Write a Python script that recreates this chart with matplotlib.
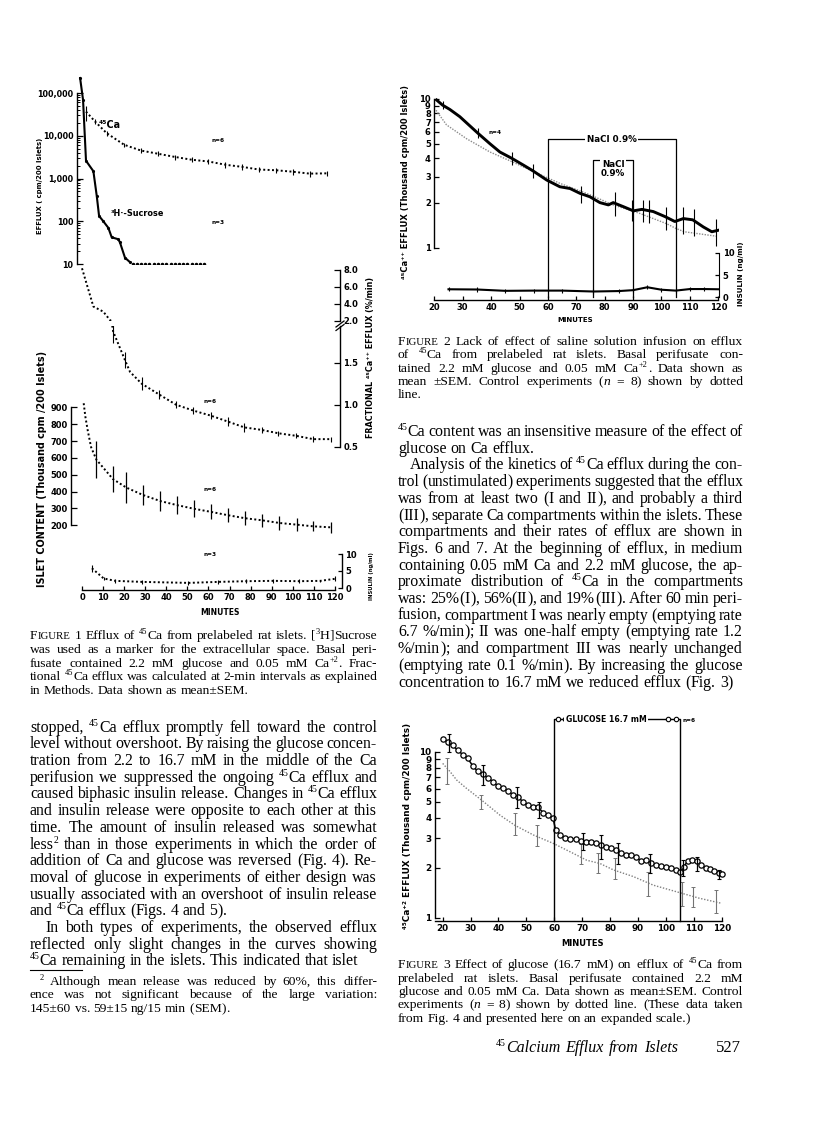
import re

import matplotlib
matplotlib.use("Agg")
import matplotlib.pyplot as plt
from matplotlib.lines import Line2D

W, H = 816, 1134
SERIF = "Liberation Serif"
SANS = ["DejaVu Sans"]

# ---------------- Figure 1 (minutes) ----------------
f1_ca_t = [1.9, 6.2, 11.7, 20, 28, 36, 44, 52, 60, 68, 76, 84, 92, 100, 108, 116]
f1_ca_v = [36700, 21500, 11500, 6150, 4500, 3800, 3200, 2750, 2500, 2100, 1870, 1620, 1560, 1440, 1300, 1320]
f1_ca_sem = [14000, 3000, 1500, 800, 600, 500, 420, 380, 330, 300, 260, 230, 220, 200, 190, 190]

f1_suc_t = [-0.9, 0.5, 1.9, 5.4, 7.0, 8.1, 10.1, 12.5, 14.1, 17.2, 18.0, 20.4, 22.8]
f1_suc_v = [224000, 69000, 2600, 1480, 390, 133, 100, 70, 42, 38, 32, 14, 11]
f1_suc_tail_t = [24, 26, 28, 30, 32, 34, 36, 38, 40, 42, 44, 46, 48, 50, 52, 54, 56, 58]
f1_suc_tail_v = [10, 10, 10, 10, 10, 10, 10, 10, 10, 10, 10, 10, 10, 10, 10, 10, 10, 10]

f1_frac_t = [0, 5.4, 10.1, 13.3, 14.8, 20.4, 22.8, 28.3, 36.7, 44.6, 52.8, 61.1, 69.1, 77, 85.2, 93.1, 101.5, 109.7, 118.1]
f1_frac_v = [8.2, 3.7, 3.1, 2.1, 1.87, 1.53, 1.39, 1.25, 1.12, 1.0, 0.93, 0.87, 0.80, 0.73, 0.70, 0.66, 0.63, 0.59, 0.59]
f1_frac_bar_t = [14.8, 20.4, 28.3, 36.7, 44.6, 52.8, 61.1, 69.1, 77, 85.2, 93.1, 101.5, 109.7, 118.1]
f1_frac_bar_v = [1.87, 1.53, 1.25, 1.12, 1.0, 0.93, 0.87, 0.80, 0.73, 0.70, 0.66, 0.63, 0.59, 0.59]
f1_frac_bar_sem = [0.14, 0.095, 0.08, 0.05, 0.045, 0.04, 0.04, 0.05, 0.05, 0.04, 0.03, 0.03, 0.035, 0.03]

f1_islet_t = [0.8, 1.6, 2.7, 4.3, 6.8, 14.7, 21, 28.9, 37.1, 45, 53.2, 61.1, 69.2, 77.4, 85.3, 93.6, 101.8, 109.7, 118.1]
f1_islet_v = [924, 844, 764, 664, 590, 474, 424, 380, 344, 320, 298, 280, 260, 242, 230, 214, 204, 194, 188]
f1_islet_bar_t = [6.8, 14.7, 21, 28.9, 37.1, 45, 53.2, 61.1, 69.2, 77.4, 85.3, 93.6, 101.8, 109.7, 118.1]
f1_islet_bar_v = [590, 474, 424, 380, 344, 320, 298, 280, 260, 242, 230, 214, 204, 194, 188]
f1_islet_bar_sem = [110, 78, 90, 62, 60, 53, 50, 45, 40, 42, 40, 40, 38, 30, 33]

f1_ins_t = [4.7, 10.3, 15.8, 28.4, 50.5, 64.7, 78, 90.8, 103, 113, 120]
f1_ins_v = [5.8, 2.8, 2.1, 1.8, 1.5, 1.8, 2.0, 2.1, 2.0, 2.1, 2.7]
f1_ins_sem = [1.1, 0.3, 0.6, 0.6, 0.6, 0.6, 0.6, 0.6, 0.6, 0.3, 0.7]

# ---------------- Figure 2 ----------------
f2_t = [20.8, 22.9, 25.5, 29, 31.4, 35.3, 39.6, 43.1, 47.2, 51.3, 54.6, 59.6, 64.2, 67.8, 71.3,
        74.8, 78.3, 81.3, 83, 86.5, 90.1, 93.1, 97.1, 101.2, 104.7, 107.7, 111, 114.7, 117.7, 120]
f2_v = [9.85, 9.1, 8.5, 7.6, 6.9, 5.9, 5.0, 4.4, 4.0, 3.6, 3.3, 2.85, 2.57, 2.5, 2.32,
        2.2, 2.01, 1.94, 2.01, 1.89, 1.77, 1.81, 1.75, 1.62, 1.50, 1.57, 1.54, 1.38, 1.28, 1.31]
f2_bar_t = [22.9, 35.3, 47.2, 54.6, 71.7, 83.5, 89.6, 93.6, 95.6, 101.7, 107.5, 111.4, 119.3]
f2_bar_v = [9.1, 5.9, 4.0, 3.3, 2.3, 2.0, 1.8, 1.8, 1.78, 1.6, 1.55, 1.5, 1.3]
f2_bar_sem = [0.57, 0.46, 0.41, 0.37, 0.30, 0.36, 0.28, 0.30, 0.32, 0.29, 0.32, 0.31, 0.27]
f2_ctl_t = [20.6, 24.3, 31.4, 39.6, 47.2, 54.9, 64.2, 73.6, 83, 92.4, 101.8, 105, 108, 120]
f2_ctl_v = [8.4, 6.7, 5.4, 4.4, 3.8, 3.25, 2.71, 2.32, 1.94, 1.70, 1.45, 1.35, 1.28, 1.19]
f2_ins_t = [25, 35, 45, 55, 65, 76, 85, 90, 95, 100, 105, 110, 115, 120]
f2_ins_v = [1.8, 1.75, 1.45, 1.5, 1.5, 1.3, 1.4, 1.6, 2.25, 1.7, 1.5, 1.85, 1.85, 1.8]
f2_nacl_long = [60, 105]
f2_nacl_short = [76, 90]

# ---------------- Figure 3 ----------------
f3_t = [20, 21.8, 23.6, 25.4, 27.2, 29, 30.8, 32.6, 34.4, 36.2, 38, 39.8, 41.6, 43.4, 45.2, 47,
        48.8, 50.6, 52.4, 54.2, 56, 57.8, 59.5, 60.5, 62.2, 64, 65.8, 67.6, 69.4, 71.2, 73, 74.8,
        76.6, 78.4, 80.2, 82, 83.8, 85.6, 87.4, 89.2, 91, 92.8, 94.6, 96.4, 98.2, 100, 101.8,
        103.6, 105.2, 106.4, 107.8, 109.4, 111, 112.6, 114.2, 115.8, 117.4, 119, 120]
f3_v = [12.0, 11.5, 10.9, 10.2, 9.6, 9.1, 8.2, 7.6, 7.3, 6.95, 6.6, 6.2, 6.05, 5.8, 5.5, 5.3,
        5.0, 4.75, 4.66, 4.62, 4.3, 4.15, 4.0, 3.37, 3.15, 3.02, 2.97, 2.98, 2.88, 2.85, 2.86, 2.8,
        2.73, 2.65, 2.62, 2.55, 2.46, 2.4, 2.38, 2.33, 2.2, 2.23, 2.14, 2.09, 2.05, 2.02, 1.98,
        1.95, 1.89, 2.02, 2.2, 2.22, 2.2, 2.08, 1.99, 1.96, 1.92, 1.85, 1.83]
f3_bar_t = [22.4, 34.3, 46.5, 54.5, 70.4, 76.6, 83, 94.3, 106.3, 111, 119]
f3_bar_v = [11.3, 7.3, 5.36, 4.5, 2.9, 2.7, 2.45, 2.15, 2.0, 2.12, 1.83]
f3_bar_sem = [1.4, 1.0, 0.75, 0.5, 0.35, 0.45, 0.35, 0.28, 0.22, 0.2, 0.11]
f3_ctl_t = [20, 22.6, 25, 28.6, 34, 40.5, 45.9, 52.5, 59.7, 66.8, 71.6, 76.4, 81.2, 88.3, 95.5, 104, 112, 120]
f3_ctl_v = [8.5, 7.6, 6.75, 6.0, 5.1, 4.15, 3.6, 3.15, 2.8, 2.44, 2.22, 2.12, 1.94, 1.77, 1.57, 1.43, 1.31, 1.22]
f3_ctl_bar_t = [21.4, 33.7, 45.9, 53.7, 69.6, 75.6, 81.8, 93.7, 105.7, 109.8, 118]
f3_ctl_bar_v = [7.8, 5.0, 3.7, 3.15, 2.45, 2.15, 2.0, 1.62, 1.4, 1.35, 1.26]
f3_ctl_bar_sem = [1.4, 0.5, 0.55, 0.45, 0.33, 0.3, 0.3, 0.26, 0.23, 0.19, 0.2]
f3_glucose = [60, 105]

# ---------------- text of the page ($^{..}$ = superscript, $..$ = italic) ----------------
cap1 = ["FIGURE 1  Efflux of $^{45}$Ca from prelabeled rat islets. [$^{3}$H]Sucrose",
        "was used as a marker for the extracellular space. Basal peri-",
        "fusate contained 2.2 mM glucose and 0.05 mM Ca$^{+2}$. Frac-",
        "tional $^{45}$Ca efflux was calculated at 2-min intervals as explained",
        "in Methods. Data shown as mean±SEM."]
body_left = ["stopped, $^{45}$Ca efflux promptly fell toward the control",
             "level without overshoot. By raising the glucose concen-",
             "tration from 2.2 to 16.7 mM in the middle of the Ca",
             "perifusion we suppressed the ongoing $^{45}$Ca efflux and",
             "caused biphasic insulin release. Changes in $^{45}$Ca efflux",
             "and insulin release were opposite to each other at this",
             "time. The amount of insulin released was somewhat",
             "less$^{2}$ than in those experiments in which the order of",
             "addition of Ca and glucose was reversed (Fig. 4). Re-",
             "moval of glucose in experiments of either design was",
             "usually associated with an overshoot of insulin release",
             "and $^{45}$Ca efflux (Figs. 4 and 5).",
             "In both types of experiments, the observed efflux",
             "reflected only slight changes in the curves showing",
             "$^{45}$Ca remaining in the islets. This indicated that islet"]
body_left_last = [11]
body_left_indent = [12]
footnote = ["$^{2}$ Although mean release was reduced by 60%, this differ-",
            "ence was not significant because of the large variation:",
            "145±60 vs. 59±15 ng/15 min (SEM)."]
cap2 = ["FIGURE 2   Lack of effect of saline solution infusion on efflux",
        "of $^{45}$Ca from prelabeled rat islets. Basal perifusate con-",
        "tained 2.2 mM glucose and 0.05 mM Ca$^{+2}$. Data shown as",
        "mean ±SEM. Control experiments ($n$ = 8) shown by dotted",
        "line."]
body_right = ["$^{45}$Ca content was an insensitive measure of the effect of",
              "glucose on Ca efflux.",
              "Analysis of the kinetics of $^{45}$Ca efflux during the con-",
              "trol (unstimulated) experiments suggested that the efflux",
              "was from at least two (I and II), and probably a third",
              "(III), separate Ca compartments within the islets. These",
              "compartments and their rates of efflux are shown in",
              "Figs. 6 and 7. At the beginning of efflux, in medium",
              "containing 0.05 mM Ca and 2.2 mM glucose, the ap-",
              "proximate distribution of $^{45}$Ca in the compartments",
              "was: 25%(I), 56%(II), and 19%(III). After 60 min peri-",
              "fusion, compartment I was nearly empty (emptying rate",
              "6.7 %/min); II was one-half empty (emptying rate 1.2",
              "%/min); and compartment III was nearly unchanged",
              "(emptying rate 0.1 %/min). By increasing the glucose",
              "concentration to 16.7 mM we reduced efflux (Fig. 3)"]
body_right_last = [1]
body_right_indent = [2]
cap3 = ["FIGURE 3   Effect of glucose (16.7 mM) on efflux of $^{45}$Ca from",
        "prelabeled rat islets. Basal perifusate contained 2.2 mM",
        "glucose and 0.05 mM Ca. Data shown as mean±SEM. Control",
        "experiments ($n$ = 8) shown by dotted line. (These data taken",
        "from Fig. 4 and presented here on an expanded scale.)"]
footer = "$^{45}$Calcium Efflux from Islets"
page_no = "527"

plt.rcParams["font.family"] = SANS

fig = plt.figure(figsize=(W / 100, H / 100), dpi=100)
fig.patch.set_facecolor("white")
R = fig.canvas.get_renderer()


def px_axes(l, r, t, b):
    ax = fig.add_axes([l / W, 1 - b / H, (r - l) / W, (b - t) / H])
    ax.patch.set_alpha(0)
    for s in ax.spines.values():
        s.set_visible(False)
        s.set_linewidth(1.0)
    ax.tick_params(which="both", left=False, right=False, top=False, bottom=False,
                   labelleft=False, labelright=False, labelbottom=False, labelsize=6.0,
                   direction="in", width=0.9, length=4, pad=2.5)
    ax.tick_params(which="minor", length=2.2, width=0.7)
    return ax


def bold_ticks(ax):
    for lab in ax.get_xticklabels() + ax.get_yticklabels():
        lab.set_fontweight("bold")


def ptext(x, y, s, size=5.8, **kw):
    kw.setdefault("ha", "center")
    kw.setdefault("va", "center")
    return fig.text(x / W, 1 - y / H, s, fontsize=size, **kw)


def fit_text(x, y, s, length, rotation=0, size=6, **kw):
    t = ptext(x, y, s, size=size, rotation=rotation, **kw)
    bb = t.get_window_extent(renderer=R)
    cur = bb.height if rotation == 90 else bb.width
    t.set_fontsize(size * length / cur)
    return t


TOK = re.compile(r"\$\^\{([^}]*)\}\$|\$([^$]*)\$|([^$]+)")
BRK = re.compile(r"([()\[\]])")


def word_parts(w, style):
    # (text, size factor, rise in em, style); brackets kept apart so the letters stay level
    if w == "FIGURE":
        return [("F", 1.0, 0, style), ("IGURE", 0.8, 0, style)]
    out = []
    for m in TOK.finditer(w):
        if m.group(1) is not None:
            out.append((m.group(1), 0.62, 0.36, "normal"))
        elif m.group(2) is not None:
            out.append((m.group(2), 1.0, 0, "italic"))
        else:
            for piece in BRK.split(m.group(3)):
                if piece:
                    out.append((piece, 1.0, 0, style))
    return out


def set_line(s, x0, x1, y, size, justify=True, style="normal"):
    words = s.split()
    base = round(y + 3.4)
    while True:
        em = size * 100 / 72
        groups, widths = [], []
        for w in words:
            g, gw = [], 0.0
            for p, f, rise, st in word_parts(w, style):
                yb = base - round(rise * em)
                t = fig.text(0, 1 - yb / H, p, fontsize=size * f, family=SERIF,
                             va="baseline", ha="left", style=st)
                g.append((t, gw))
                gw += t.get_window_extent(renderer=R).width
            groups.append(g)
            widths.append(gw)
        gap = em * 0.25
        if justify and len(words) > 1:
            gap = (x1 - x0 - sum(widths)) / (len(words) - 1)
        if gap >= em * 0.16 or not justify:
            break
        for g in groups:
            for t, _ in g:
                t.remove()
        size *= 0.98
    x = x0
    for g, gw in zip(groups, widths):
        for t, off in g:
            t.set_x((x + off) / W)
        x += gw + gap


def paragraph(lines, x0, x1, ys, size, last=(), indent=(), ind_px=14):
    n = len(lines)
    for i, (s, y) in enumerate(zip(lines, ys)):
        xs = x0 + (ind_px if i in indent else 0)
        set_line(s, xs, x1, y, size, justify=(i not in last and i != n - 1))


# ======================= FIGURE 1 =======================
def f1x(px):
    return (px - 82) / 2.108


dot = (0, (1, 1.25))

# efflux (log)
a1 = px_axes(77, 345, 72, 264)
a1.set_yscale("log")
a1.set_xlim(f1x(77), f1x(345))
a1.set_ylim(10, 10 ** (1 + (264 - 72) / 42.75))
a1.spines["left"].set_visible(True)
a1.spines["left"].set_bounds(10, 1e5)
a1.set_yticks([10, 100, 1000, 10000, 100000], ["10", "100", "1,000", "10,000", "100,000"])
a1.set_yticks([m * 10 ** e for e in range(1, 5) for m in range(2, 10)], minor=True)
a1.tick_params(axis="y", which="both", left=True, labelleft=True, labelsize=5.8)
a1.tick_params(axis="y", which="minor", labelleft=False)
a1.plot(f1_ca_t, f1_ca_v, ls=dot, color="k", lw=1.4)
a1.errorbar(f1_ca_t, f1_ca_v, yerr=f1_ca_sem, fmt="none", ecolor="k", elinewidth=0.8)
a1.plot(f1_suc_t, f1_suc_v, "-", color="k", lw=1.5, marker=".", ms=2.5)
a1.plot(f1_suc_tail_t, f1_suc_tail_v, ls="none", color="k", marker=".", ms=3)

# fractional efflux, broken axis
a2 = px_axes(77, 340, 262, 321)
a2.set_xlim(f1x(77), f1x(340))
a2.set_ylim(2.0, 2.0 + (321 - 262) / 8.5)
a2.spines["right"].set_visible(True)
a2.spines["right"].set_bounds(2, 8)
a2.set_yticks([2, 4, 6, 8], ["2.0", "4.0", "6.0", "8.0"])
a2.tick_params(axis="y", right=True, labelright=True)
a2.plot(f1_frac_t, f1_frac_v, ls=dot, color="k", lw=1.4)

a3 = px_axes(77, 340, 326, 452)
a3.set_xlim(f1x(77), f1x(340))
a3.set_ylim(0.5 - (452 - 446.7) / 84, 0.5 + (446.7 - 326) / 84)
a3.spines["right"].set_visible(True)
a3.spines["right"].set_bounds(0.5, 0.5 + (446.7 - 326) / 84)
a3.set_yticks([0.5, 1.0, 1.5], ["0.5", "1.0", "1.5"])
a3.tick_params(axis="y", right=True, labelright=True)
a3.plot(f1_frac_t, f1_frac_v, ls=dot, color="k", lw=1.4)
a3.errorbar(f1_frac_bar_t, f1_frac_bar_v, yerr=f1_frac_bar_sem, fmt="none", ecolor="k", elinewidth=0.8)
for dy in (0, 3.5):
    fig.add_artist(Line2D([336 / W, 344 / W], [1 - (327 + dy) / H, 1 - (321 + dy) / H], color="k", lw=0.9))

# islet content
a4 = px_axes(71, 345, 395, 540)
a4.set_xlim(f1x(71), f1x(345))
a4.set_ylim(900 - (540 - 407.3) / 0.1686, 900 + (407.3 - 395) / 0.1686)
a4.spines["left"].set_visible(True)
a4.spines["left"].set_bounds(200, 900)
a4.set_yticks([200, 300, 400, 500, 600, 700, 800, 900])
a4.tick_params(axis="y", left=True, labelleft=True)
a4.plot(f1_islet_t, f1_islet_v, ls=dot, color="k", lw=1.4)
a4.errorbar(f1_islet_bar_t, f1_islet_bar_v, yerr=f1_islet_bar_sem, fmt="none", ecolor="k", elinewidth=0.9)

# insulin + time axis
a5 = px_axes(77, 342, 545, 590)
a5.set_xlim(f1x(77), f1x(342))
a5.set_ylim((588 - 590) / 3.4, (588 - 545) / 3.4)
a5.spines["right"].set_visible(True)
a5.spines["right"].set_bounds(0, 10)
a5.spines["bottom"].set_visible(True)
a5.spines["bottom"].set_bounds(0, 120)
a5.set_yticks([0, 5, 10])
a5.set_xticks(range(0, 121, 10))
a5.tick_params(axis="y", right=True, labelright=True, length=3)
a5.tick_params(axis="x", bottom=True, labelbottom=True, length=3)
a5.plot(f1_ins_t, f1_ins_v, ls=dot, color="k", lw=1.4)
a5.errorbar(f1_ins_t, f1_ins_v, yerr=f1_ins_sem, fmt="none", ecolor="k", elinewidth=0.8)
for ax in (a1, a2, a3, a4, a5):
    bold_ticks(ax)

fit_text(110, 125, "⁴⁵Ca", 22, weight="bold")
fit_text(218, 140, "n=6", 13, weight="bold")
fit_text(137, 213, "³H·-Sucrose", 54, weight="bold")
fit_text(218, 222, "n=3", 13, weight="bold")
fit_text(210, 402, "n=6", 13, weight="bold")
fit_text(210, 490, "n=6", 13, weight="bold")
fit_text(210, 555, "n=3", 13, weight="bold")
fit_text(40, 186, "EFFLUX ( cpm/200 Islets)", 96, rotation=90, weight="bold")
fit_text(42, 469, "ISLET CONTENT (Thousand cpm /200 Islets)", 236, rotation=90, weight="bold")
fit_text(371, 357.5, "FRACTIONAL ⁴⁵Ca⁺⁺ EFFLUX (%/min)", 161, rotation=90, weight="bold")
fit_text(371, 576, "INSULIN (ng/ml)", 48, rotation=90, weight="bold")
fit_text(220, 612.5, "MINUTES", 39, weight="bold")

# ======================= FIGURE 2 =======================
b1 = px_axes(434.3, 719.3, 88, 300)
b1.set_yscale("log")
b1.set_xlim(20, 20 + (719.3 - 434.3) / 2.84)
b1.set_ylim(10 ** ((247.7 - 300) / 148.7), 10 ** ((247.7 - 88) / 148.7))
b1.spines["left"].set_visible(True)
b1.spines["left"].set_bounds(1, 10)
b1.spines["bottom"].set_visible(True)
b1.spines["bottom"].set_bounds(20, 120)
b1.set_yticks(range(1, 11), [str(v) for v in range(1, 11)])
b1.minorticks_off()
b1.set_xticks(range(20, 121, 10))
b1.tick_params(axis="y", left=True, labelleft=True, length=3.5)
b1.tick_params(axis="x", bottom=True, labelbottom=True, length=3)
b1.plot(f2_ctl_t, f2_ctl_v, ls=(0, (1, 1)), color="0.55", lw=1.0)
b1.plot(f2_t, f2_v, "-", color="k", lw=2.1)
b1.errorbar(f2_bar_t, f2_bar_v, yerr=f2_bar_sem, fmt="none", ecolor="k", elinewidth=0.8)
base2 = 10 ** ((247.7 - 297) / 148.7)
top_long = 10 ** ((247.7 - 139.3) / 148.7)
top_short = 10 ** ((247.7 - 160.3) / 148.7)
for (ta, tb), yt in ((f2_nacl_long, top_long), (f2_nacl_short, top_short)):
    b1.plot([ta, ta, tb, tb], [base2, yt, yt, base2], color="k", lw=0.9)
b1.text(sum(f2_nacl_long) / 2, top_long, "NaCl 0.9%", ha="center", va="center", fontsize=6.3,
        weight="bold", bbox=dict(fc="white", ec="none", pad=1.2))
b1.text(sum(f2_nacl_short) / 2, top_short, "NaCl\n0.9%", ha="center", va="top", fontsize=6.3,
        weight="bold", linespacing=0.95, bbox=dict(fc="white", ec="none", pad=0.6))
b2 = b1.twinx()
b2.patch.set_alpha(0)
for s in b2.spines.values():
    s.set_visible(False)
b2.set_ylim((297.3 - 300) / 4.46, (297.3 - 88) / 4.46)
b2.spines["right"].set_visible(True)
b2.spines["right"].set_bounds(0, 10)
b2.set_yticks([0, 5, 10])
b2.tick_params(axis="y", direction="in", right=True, labelright=True, labelsize=6.0, length=3, width=0.9, pad=2.5)
b2.plot(f2_ins_t, f2_ins_v, "-", color="k", lw=1.5)
b2.errorbar(f2_ins_t[:-1], f2_ins_v[:-1], yerr=0.45, fmt="none", ecolor="k", elinewidth=0.8)
bold_ticks(b1)
bold_ticks(b2)

fit_text(495, 133, "n=4", 13, weight="bold")
fit_text(406, 182, "⁴⁵Ca⁺⁺ EFFLUX (Thousand cpm/200 Islets)", 194, rotation=90, weight="bold")
fit_text(741, 274, "INSULIN (ng/ml)", 65, rotation=90, weight="bold")
fit_text(575, 319.5, "MINUTES", 36, weight="bold")

# ======================= FIGURE 3 =======================
c1 = px_axes(435, 725, 719.3, 920.7)
c1.set_yscale("log")
c1.set_xlim(20 + (435 - 442.7) / 2.79, 20 + (725 - 442.7) / 2.79)
c1.set_ylim(10 ** ((917.7 - 920.7) / 166), 10 ** ((917.7 - 719.3) / 166))
c1.spines["left"].set_visible(True)
c1.spines["left"].set_bounds(1, 10)
c1.spines["bottom"].set_visible(True)
c1.spines["bottom"].set_bounds(20 + (435 - 442.7) / 2.79, 120)
c1.set_yticks(range(1, 11), [str(v) for v in range(1, 11)])
c1.minorticks_off()
c1.set_xticks(range(20, 121, 10))
c1.tick_params(axis="y", left=True, labelleft=True, length=3.5, labelsize=6.3)
c1.tick_params(axis="x", bottom=True, labelbottom=True, length=3, labelsize=6.3)
ylo3, yhi3 = c1.get_ylim()
c1.plot(f3_ctl_t, f3_ctl_v, ls=(0, (1, 1.2)), color="0.5", lw=1.0)
c1.errorbar(f3_ctl_bar_t, f3_ctl_bar_v, yerr=f3_ctl_bar_sem, fmt="none", ecolor="0.45",
            elinewidth=0.8, capsize=1.2, capthick=0.7)
c1.plot(f3_t, f3_v, "-o", color="k", lw=1.1, ms=3.8, mfc="white", mew=0.9)
c1.errorbar(f3_bar_t, f3_bar_v, yerr=f3_bar_sem, fmt="none", ecolor="k", elinewidth=0.9,
            capsize=1.3, capthick=0.8)
ga, gb = f3_glucose
c1.plot([ga, ga, gb, gb], [ylo3, yhi3, yhi3, ylo3], color="k", lw=1.0, clip_on=False)
c1.plot([ga + 1.2, ga + 3.9, gb - 4.1, gb - 1.3], [yhi3] * 4, ls="none", marker="o", ms=3.2,
        mfc="white", mec="k", mew=0.8, clip_on=False)
c1.text(78.5, yhi3, "GLUCOSE 16.7 mM", ha="center", va="center", fontsize=5.6, weight="bold",
        bbox=dict(fc="white", ec="none", pad=1.0), clip_on=False)
bold_ticks(c1)
fit_text(689, 720, "n=6", 13, weight="bold")
fit_text(408, 826, "⁴⁵Ca⁺² EFFLUX (Thousand cpm/200 Islets)", 206, rotation=90, weight="bold")
fit_text(583, 943.5, "MINUTES", 43, weight="bold")

# ======================= page text =======================
LX0, LX1 = 30, 377
RX0, RX1 = 398, 743
paragraph(cap1, LX0, LX1, [636, 650, 663.3, 676.7, 690.7], 9.7)
paragraph(body_left, LX0, LX1, [728.3 + 16.7 * i for i in range(len(body_left))], 11.4,
          last=body_left_last, indent=body_left_indent, ind_px=15)
fig.add_artist(Line2D([30 / W, 82 / W], [1 - 970 / H, 1 - 970 / H], color="k", lw=0.8))
paragraph(footnote, LX0, LX1, [981.7, 995, 1008.3], 9.7, indent=[0], ind_px=10)
paragraph(cap2, RX0, RX1, [341.7, 355, 368.3, 381.7, 395], 9.7)
paragraph(body_right, RX0, RX1, [432.7 + 16.7 * i for i in range(len(body_right))], 11.4,
          last=body_right_last, indent=body_right_indent, ind_px=12)
paragraph(cap3, RX0, RX1, [965, 978.3, 991.7, 1005, 1018.3], 9.7)

set_line(footer, 496, 678, 1048.5, 11.5, justify=True, style="italic")
set_line(page_no, 716, 740, 1048.5, 12, justify=False)

fig.savefig("out.png", dpi=100, facecolor="white")
